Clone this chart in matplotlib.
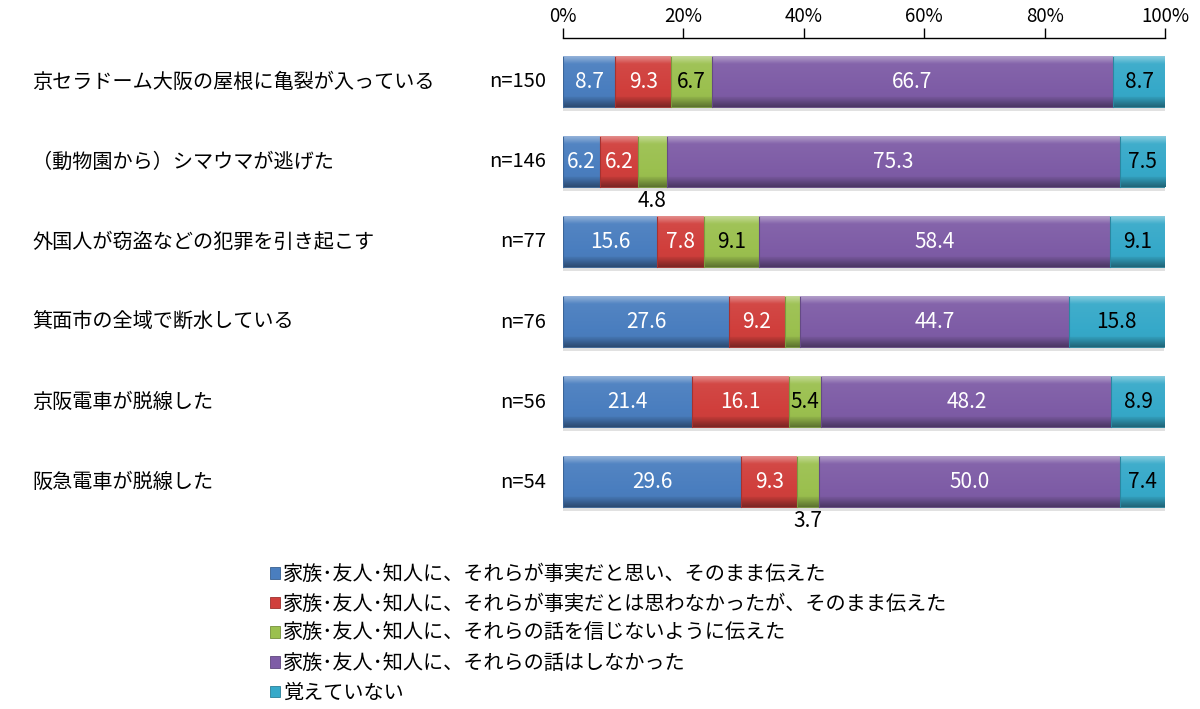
import matplotlib.pyplot as plt
import matplotlib.colors as mcolors
import matplotlib.transforms as mtransforms
import numpy as np

plt.rcParams['font.family'] = ['Noto Sans CJK JP', 'DejaVu Sans']

# データ
categories = ['京セラドーム大阪の屋根に亀裂が入っている',
              '（動物園から）シマウマが逃げた',
              '外国人が窃盗などの犯罪を引き起こす',
              '箕面市の全域で断水している',
              '京阪電車が脱線した',
              '阪急電車が脱線した']
n_labels = ['n=150', 'n=146', 'n=77', 'n=76', 'n=56', 'n=54']

series_names = ['家族･友人･知人に、それらが事実だと思い、そのまま伝えた',
                '家族･友人･知人に、それらが事実だとは思わなかったが、そのまま伝えた',
                '家族･友人･知人に、それらの話を信じないように伝えた',
                '家族･友人･知人に、それらの話はしなかった',
                '覚えていない']

blue = [8.7, 6.2, 15.6, 27.6, 21.4, 29.6]
red = [9.3, 6.2, 7.8, 9.2, 16.1, 9.3]
green = [6.7, 4.8, 9.1, 2.6, 5.4, 3.7]
purple = [66.7, 75.3, 58.4, 44.7, 48.2, 50.0]
cyan = [8.7, 7.5, 9.1, 15.8, 8.9, 7.4]

ticks = [0, 20, 40, 60, 80, 100]
tick_labels = ['0%', '20%', '40%', '60%', '80%', '100%']

series = [blue, red, green, purple, cyan]
colors = ['#4A7EBF', '#D03F3C', '#9BC04F', '#7E5CA6', '#36A9C9']
text_colors = ['white', 'white', 'black', 'white', 'black']


def shade(c, f):
    r = np.array(mcolors.to_rgb(c))
    if f > 0:
        return r + (1 - r) * f
    return r * (1 + f)


def gradient(c, n=60):
    t = np.linspace(0, 1, n)
    f = np.zeros(n)
    f[t < 0.15] = 0.35 * (1 - t[t < 0.15] / 0.15) + 0.05
    f[(t >= 0.15) & (t < 0.8)] = 0.05 - 0.1 * (t[(t >= 0.15) & (t < 0.8)] - 0.15)
    f[t >= 0.8] = -0.05 - 0.35 * (t[t >= 0.8] - 0.8) / 0.2
    img = np.array([shade(c, v) for v in f])
    return img.reshape(n, 1, 3)


fig = plt.figure(figsize=(12, 7.09), dpi=100)
ax = fig.add_axes([563 / 1200, 1 - 530 / 709, 602 / 1200, 492 / 709])

y = np.arange(len(categories))
h = 0.63
left = np.zeros(len(categories))

# 影
total = np.sum(series, axis=0)
ax.barh(y + 0.05, total, height=h, left=0, color='#888888', alpha=0.25, zorder=1)

handles = []
for i, vals in enumerate(series):
    bars = ax.barh(y, vals, height=h, left=left, color=colors[i],
                   edgecolor=shade(colors[i], -0.25), linewidth=0.6,
                   label=series_names[i], zorder=2)
    handles.append(bars)
    grad = gradient(colors[i])
    for j, rect in enumerate(bars.patches):
        x0 = rect.get_x()
        x1 = x0 + rect.get_width()
        ax.imshow(grad, extent=(x0, x1, y[j] + h / 2, y[j] - h / 2),
                  origin='upper', aspect='auto', zorder=2.5,
                  interpolation='bilinear')
        ax.plot([x0, x0], [y[j] - h / 2, y[j] + h / 2],
                color=shade(colors[i], -0.2), lw=0.8, zorder=2.6)
        # ラベル
        v = vals[j]
        cx = x0 + v / 2
        if i == 2 and j == 3:
            continue
        if i == 2 and j in (1, 5):
            ax.text(cx, y[j] + h / 2 + 0.03, f'{v:.1f}', ha='center', va='top',
                    fontsize=15, color='black', zorder=4)
        else:
            ax.text(cx, y[j], f'{v:.1f}', ha='center', va='center',
                    fontsize=15, color=text_colors[i], zorder=4)
    left = left + np.array(vals)

ax.set_xlim(0, 100)
ax.set_ylim(5.6, -0.55)
ax.xaxis.tick_top()
ax.set_xticks(ticks)
ax.set_xticklabels(tick_labels, fontsize=13.5)
ax.tick_params(axis='x', length=7, width=1, color='black', pad=1)
ax.set_yticks([])
for s in ['bottom', 'left', 'right']:
    ax.spines[s].set_visible(False)
ax.spines['top'].set_linewidth(1)

trans = mtransforms.blended_transform_factory(fig.transFigure, ax.transData)
for j, cat in enumerate(categories):
    ax.text(32 / 1200, y[j], cat, transform=trans, ha='left', va='center',
            fontsize=14.5, clip_on=False)
    ax.text(546 / 1200, y[j], n_labels[j], transform=trans, ha='right',
            va='center', fontsize=14.5, clip_on=False)

fig.legend(handles=handles, labels=series_names, loc='upper left',
           bbox_to_anchor=(262 / 1200, 1 - 556 / 709), frameon=False,
           fontsize=14.5, handlelength=0.5, handleheight=0.5,
           handletextpad=0.15, labelspacing=0.43, borderaxespad=0)

fig.savefig('out.png', dpi=100)
